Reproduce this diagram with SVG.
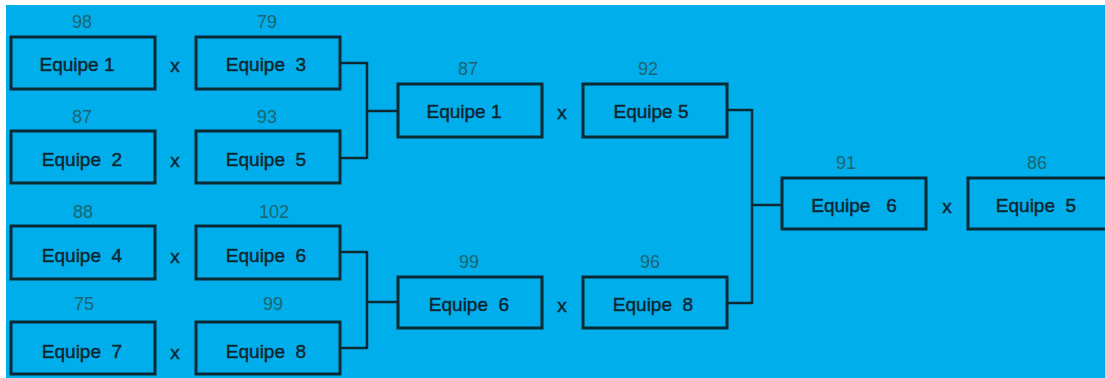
<svg xmlns="http://www.w3.org/2000/svg" width="1105" height="378" viewBox="0 0 1105 378">
<style>
.bx{fill:none;stroke:#0c2a33;stroke-width:3}
.t{font-family:"Liberation Sans",Arial,sans-serif;font-size:19px;fill:#0e2630;stroke:#0e2630;stroke-width:0.45;text-anchor:middle;white-space:pre}
.n{font-family:"Liberation Sans",Arial,sans-serif;font-size:18px;fill:#1d6670;text-anchor:middle}
.c{fill:none;stroke:#0c2a33;stroke-width:2.5}
</style>
<rect x="0" y="0" width="1105" height="378" fill="#ffffff"/>
<rect x="6" y="5" width="1099" height="373" fill="#00aeec"/>
<g id="connectors">
<path class="c" d="M341 63H367M341 158H367M367 62V159M367 111H398"/>
<path class="c" d="M341 252H367M341 348H367M367 251V349M367 302H398"/>
<path class="c" d="M728 110H752M728 303H752M752 109V304M752 205H782"/>
</g>
<g id="r1m1a"><rect class="bx" x="11" y="37" width="144" height="52"/><text class="t" x="77" y="71">Equipe 1</text><text class="n" x="82" y="28">98</text></g>
<g id="r1m1b"><rect class="bx" x="196" y="37" width="144" height="52"/><text class="t" x="266" y="71">Equipe  3</text><text class="n" x="267" y="28">79</text></g>
<text class="t" x="175" y="72">x</text>
<g id="r1m2a"><rect class="bx" x="11" y="131" width="144" height="52"/><text class="t" x="82" y="166">Equipe  2</text><text class="n" x="82" y="123">87</text></g>
<g id="r1m2b"><rect class="bx" x="196" y="131" width="144" height="52"/><text class="t" x="266" y="166">Equipe  5</text><text class="n" x="267" y="123">93</text></g>
<text class="t" x="175" y="167">x</text>
<g id="r1m3a"><rect class="bx" x="11" y="226" width="144" height="53"/><text class="t" x="82" y="262">Equipe  4</text><text class="n" x="83" y="218">88</text></g>
<g id="r1m3b"><rect class="bx" x="196" y="226" width="144" height="53"/><text class="t" x="266" y="262">Equipe  6</text><text class="n" x="274" y="218">102</text></g>
<text class="t" x="175" y="263">x</text>
<g id="r1m4a"><rect class="bx" x="11" y="322" width="144" height="52"/><text class="t" x="82" y="358">Equipe  7</text><text class="n" x="84" y="310">75</text></g>
<g id="r1m4b"><rect class="bx" x="196" y="322" width="144" height="52"/><text class="t" x="266" y="358">Equipe  8</text><text class="n" x="273" y="310">99</text></g>
<text class="t" x="175" y="359">x</text>
<g id="r2m1a"><rect class="bx" x="398" y="84" width="144" height="53"/><text class="t" x="464" y="118">Equipe 1</text><text class="n" x="468" y="75">87</text></g>
<g id="r2m1b"><rect class="bx" x="583" y="84" width="144" height="53"/><text class="t" x="651" y="118">Equipe 5</text><text class="n" x="648" y="75">92</text></g>
<text class="t" x="562" y="119">x</text>
<g id="r2m2a"><rect class="bx" x="398" y="277" width="144" height="51"/><text class="t" x="469" y="311">Equipe  6</text><text class="n" x="469" y="268">99</text></g>
<g id="r2m2b"><rect class="bx" x="583" y="277" width="144" height="51"/><text class="t" x="653" y="311">Equipe  8</text><text class="n" x="650" y="268">96</text></g>
<text class="t" x="562" y="312">x</text>
<g id="finala"><rect class="bx" x="782" y="178" width="144" height="51"/><text class="t" x="854" y="212">Equipe   6</text><text class="n" x="846" y="169">91</text></g>
<g id="finalb"><rect class="bx" x="968" y="178" width="160" height="51"/><text class="t" x="1036" y="212">Equipe  5</text><text class="n" x="1037" y="169">86</text></g>
<text class="t" x="947" y="213">x</text>
</svg>
